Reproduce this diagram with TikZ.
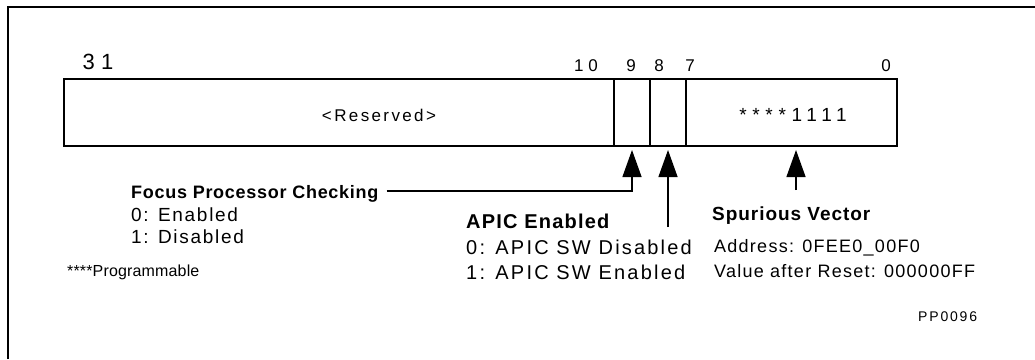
\documentclass[tikz,border=0pt]{standalone}
\usepackage{fontspec}
\setmainfont{Liberation Sans}
\usetikzlibrary{arrows.meta}
\begin{document}
\begin{tikzpicture}[x=1pt,y=-1pt,
  txt/.style={inner sep=0pt, anchor=base west},
  ctxt/.style={inner sep=0pt, anchor=base},
  regline/.style={line width=1.2pt},
  arr/.style={line width=1.3pt, -{Triangle[length=27pt,width=19pt]}}]
\useasboundingbox (0,0) rectangle (1035,359);
% frame (top and left visible)
\draw[line width=2.5pt] (8,359) -- (8,7) -- (1035,7);
% register
\draw[regline] (64,79) rectangle (897,146);
\draw[regline] (614,79) -- (614,146);
\draw[regline] (650,79) -- (650,146);
\draw[regline] (686,79) -- (686,146);
% bit numbers
\node[ctxt, font=\fontsize{22}{24}\selectfont\addfontfeatures{LetterSpace=28}] (b31) at (98,69) {31};
\node[ctxt, font=\fontsize{17}{19}\selectfont\addfontfeatures{LetterSpace=28}] (b10) at (586,71) {10};
\node[ctxt, font=\fontsize{17}{19}\selectfont] (b9) at (631,71) {9};
\node[ctxt, font=\fontsize{17}{19}\selectfont] (b8) at (659,71) {8};
\node[ctxt, font=\fontsize{17}{19}\selectfont] (b7) at (690,71) {7};
\node[ctxt, font=\fontsize{17}{19}\selectfont] (b0) at (886,71) {0};
% field contents
\node[ctxt, font=\fontsize{17}{19}\selectfont\addfontfeatures{LetterSpace=14}] (res) at (379,121) {<Reserved>};
\node[ctxt, font=\fontsize{19}{21}\selectfont\addfontfeatures{LetterSpace=30}] (vec) at (793,121) {****1111};
% arrow ends
\coordinate (t9) at (632,150);
\coordinate (t8) at (668,150);
\coordinate (tv) at (796,150);
\coordinate (c9) at (632,191);
\coordinate (e8) at (668,227);
\coordinate (ev) at (796,190);
% labels
\node[txt, font=\fontsize{18}{20}\selectfont\bfseries\addfontfeatures{LetterSpace=4}] (focus) at (131,198) {Focus Processor Checking};
\node[txt, font=\fontsize{19}{21}\selectfont\addfontfeatures{LetterSpace=9}] (f0) at (131,221) {0: Enabled};
\node[txt, font=\fontsize{19}{21}\selectfont\addfontfeatures{LetterSpace=9}] (f1) at (131,243) {1: Disabled};
\node[txt, font=\fontsize{16}{18}\selectfont\addfontfeatures{LetterSpace=1}] (prog) at (67,276) {****Programmable};
\node[txt, font=\fontsize{20}{22}\selectfont\bfseries\addfontfeatures{LetterSpace=6}] (apic) at (466,228) {APIC Enabled};
\node[txt, font=\fontsize{20}{22}\selectfont\addfontfeatures{LetterSpace=11}] (a0) at (466,254) {0: APIC SW Disabled};
\node[txt, font=\fontsize{20}{22}\selectfont\addfontfeatures{LetterSpace=11}] (a1) at (466,279) {1: APIC SW Enabled};
\node[txt, font=\fontsize{19}{21}\selectfont\bfseries\addfontfeatures{LetterSpace=5}] (spur) at (712,220) {Spurious Vector};
\node[txt, font=\fontsize{18}{20}\selectfont\addfontfeatures{LetterSpace=7}] (addr) at (714,252) {Address: 0FEE0\_00F0};
\node[txt, font=\fontsize{18}{20}\selectfont\addfontfeatures{LetterSpace=7}] (val) at (714,277) {Value after Reset: 000000FF};
\node[txt, font=\fontsize{14}{16}\selectfont\addfontfeatures{LetterSpace=13}] (pp) at (918,321) {PP0096};
% connectors
\draw[arr] ([xshift=8pt]focus.east |- c9) -- (c9) -- (t9);
\draw[arr] (e8) -- (t8);
\draw[arr] (ev) -- (tv);
\end{tikzpicture}
\end{document}
